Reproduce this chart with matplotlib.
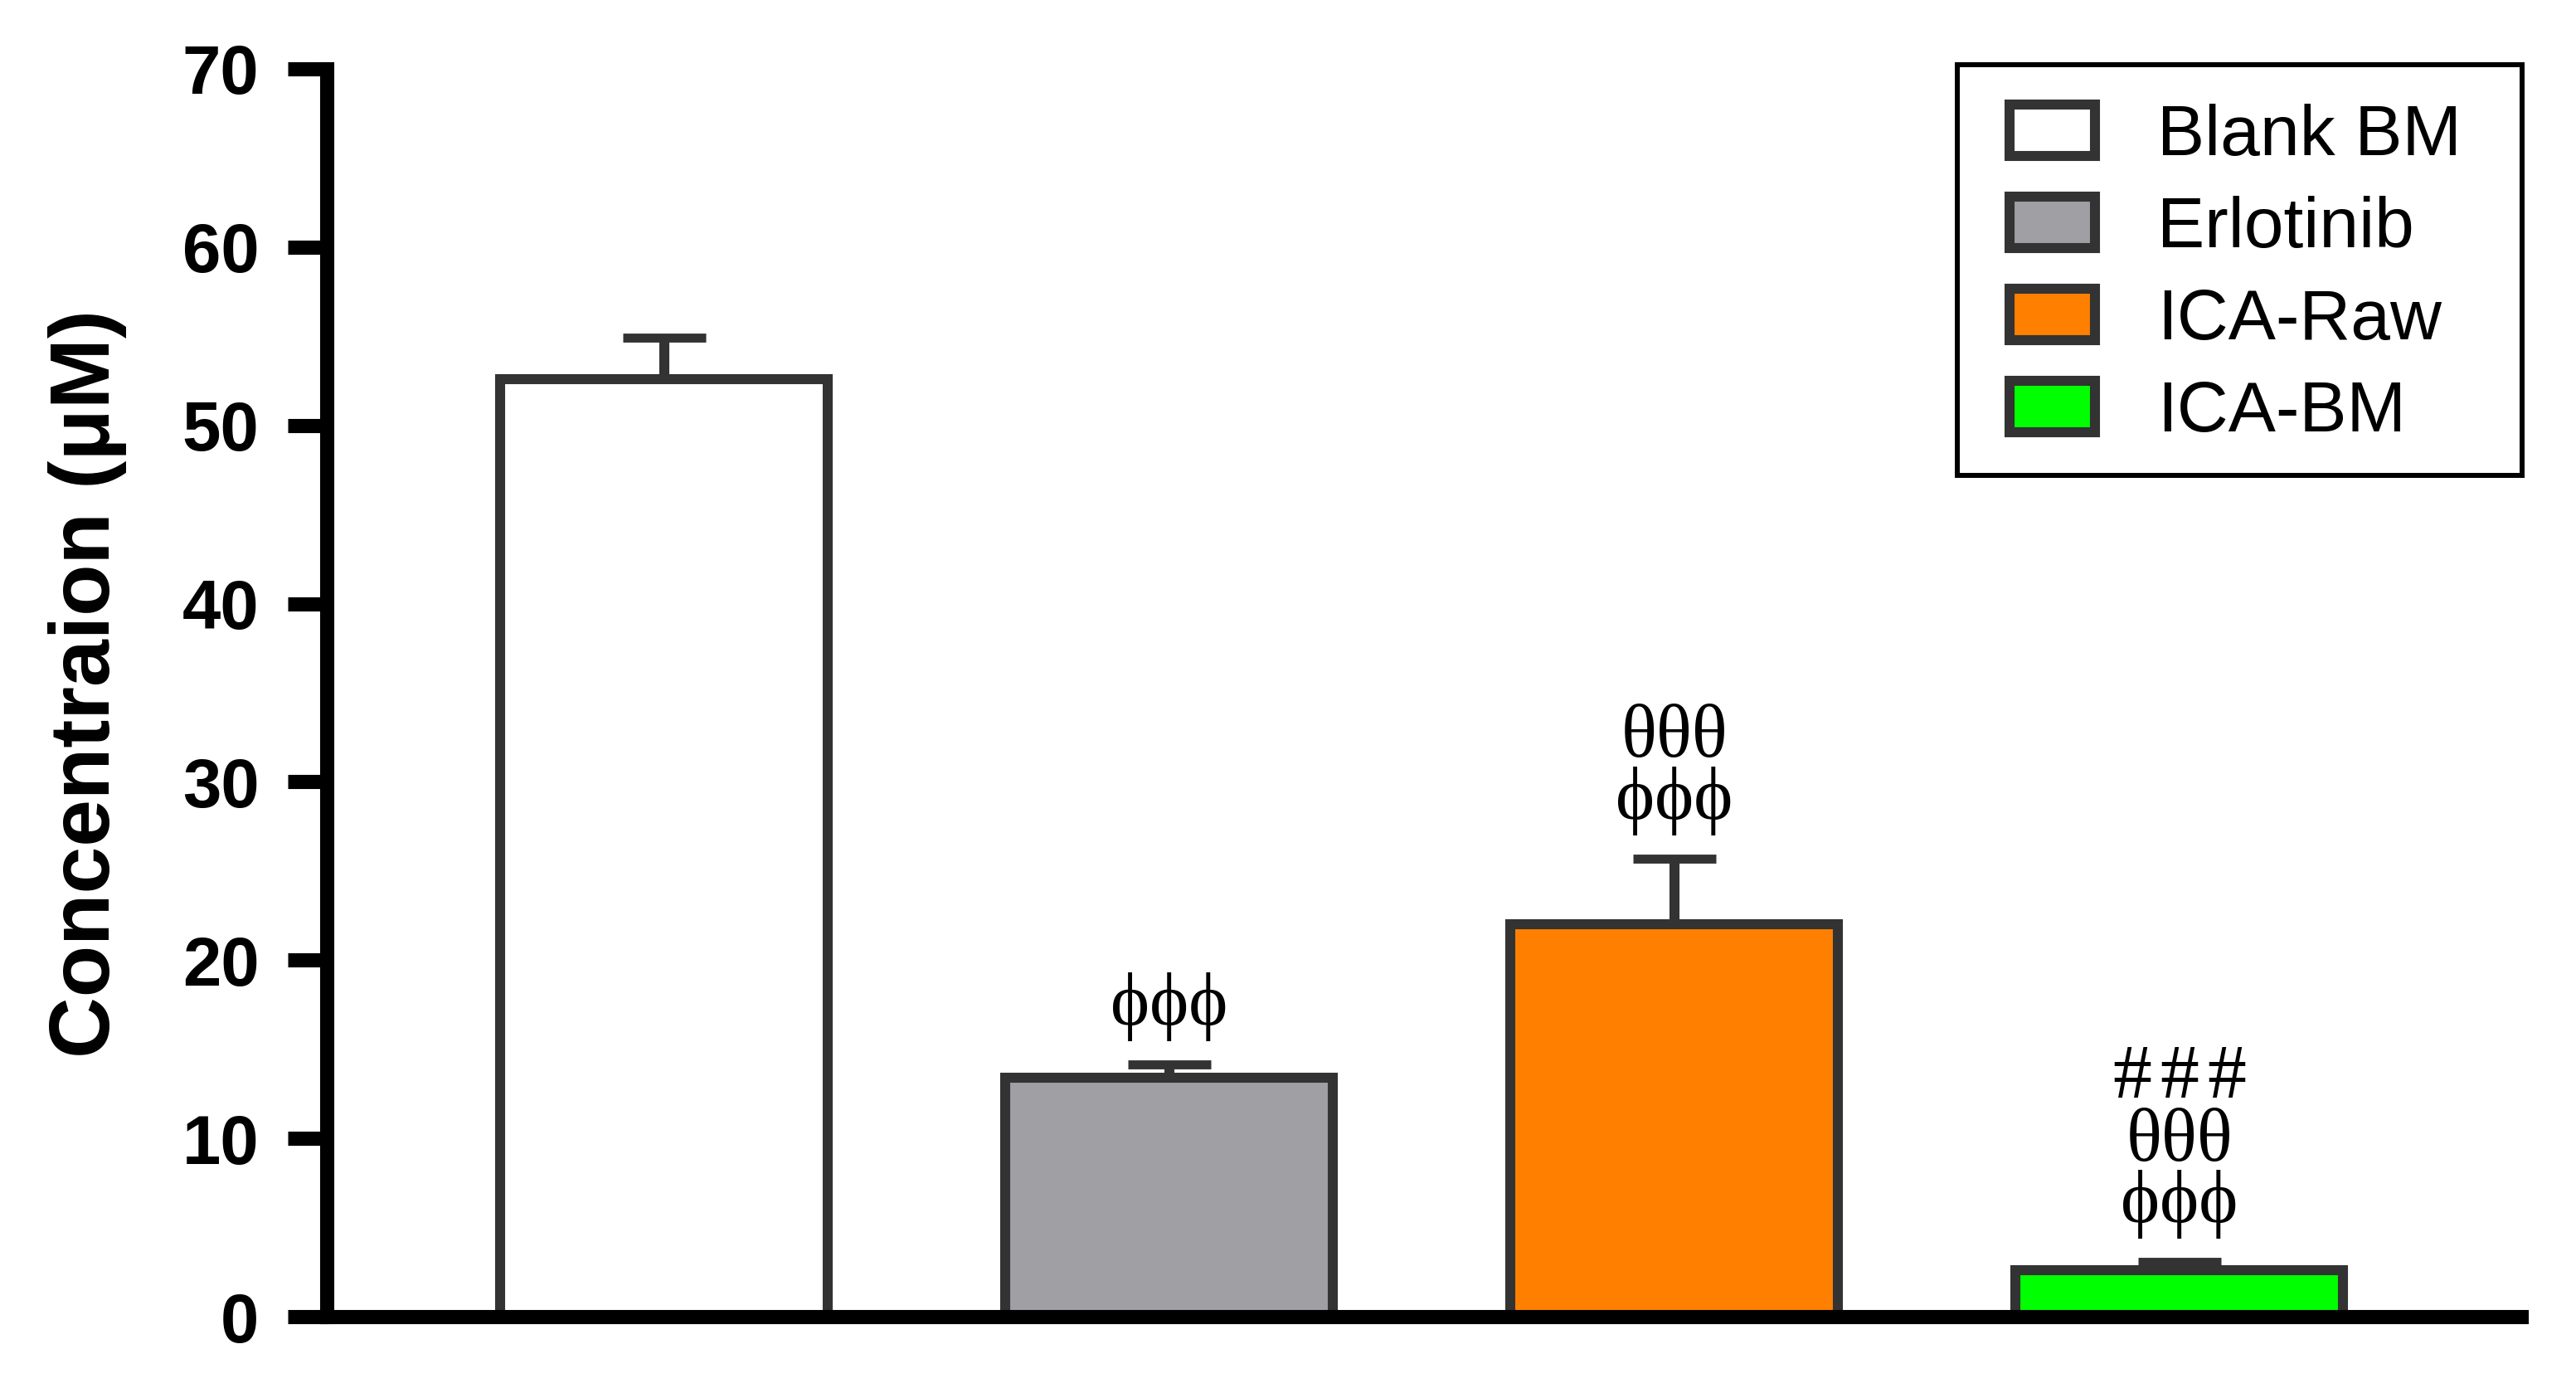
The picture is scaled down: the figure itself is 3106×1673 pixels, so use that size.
import numpy as np
import matplotlib
matplotlib.use("Agg")
import matplotlib.pyplot as plt
from matplotlib.patches import Rectangle

groups = ['Blank BM', 'Erlotinib', 'ICA-Raw', 'ICA-BM']
means = [52.6, 13.4, 22.0, 2.6]
sems = [2.3, 0.75, 3.7, 0.45]
colors = ['#FFFFFF', '#A09FA4', '#FF8000', '#00FF00']
# significance marks, bottom line first
marks = [[], ['\u03d5\u03d5\u03d5'], ['\u03d5\u03d5\u03d5', '\u03b8\u03b8\u03b8'],
         ['\u03d5\u03d5\u03d5', '\u03b8\u03b8\u03b8', '###']]

plt.rcParams['font.family'] = ['Liberation Sans', 'DejaVu Sans']
serif = ['Liberation Serif', 'DejaVu Serif']

fig = plt.figure(figsize=(3106 / 300, 1673 / 300), dpi=300)
ax = fig.add_axes([0.1270, 0.0514, 0.8518, 0.8990])

x = np.arange(len(groups))
edge = '#333333'
ax.errorbar(x, means, yerr=[np.zeros(len(sems)), sems], fmt='none',
            ecolor=edge, elinewidth=2.9, capsize=12, capthick=2.6, zorder=1)
ax.bar(x, means, width=0.649, color=colors, edgecolor=edge, linewidth=2.9,
       label=groups, zorder=2)

for i in range(len(groups)):
    top = means[i] + sems[i]
    for k, m in enumerate(marks[i]):
        dy = 11.3 + 18.2 * k
        if m == '###':
            # the hashes sit wider apart than the font spacing
            for j, dx in enumerate([-13.7, 0, 13.7]):
                ax.annotate('#', xy=(x[i], top), xytext=(dx, dy),
                            textcoords='offset points', ha='center', va='baseline',
                            fontsize=22.5, family=serif)
        else:
            ax.annotate(m, xy=(x[i], top), xytext=(0, dy),
                        textcoords='offset points', ha='center', va='baseline',
                        fontsize=21.5, family=serif)

ax.set_xlim(-0.667, 3.677)
ax.set_ylim(0, 70)
ax.set_yticks(np.arange(0, 71, 10))
ax.set_xticks([])
for s in ['top', 'right']:
    ax.spines[s].set_visible(False)
for s in ['left', 'bottom']:
    ax.spines[s].set_linewidth(4.1)
    ax.spines[s].set_color('black')
ax.tick_params(axis='y', length=11.3, width=4.1, pad=8.4, labelsize=20)
for t in ax.get_yticklabels():
    t.set_fontweight('bold')

ax.set_ylabel('Concentraion (\u03bcM)', fontsize=24.5, fontweight='bold', labelpad=16)
ax.yaxis.label.set_y(0.507)

leg = ax.legend(loc='upper right', bbox_to_anchor=(0.9928, 1.0073), borderaxespad=0,
                fontsize=20.6, frameon=False,
                handlelength=1.2, handleheight=0.74, handletextpad=0.87,
                labelspacing=0.36, borderpad=0.62)
# legend box drawn separately: padding is wider than tall in the original
ax.add_patch(Rectangle((0.7430, 0.6742), 1.0004 - 0.7430, 1.0033 - 0.6742,
                       transform=ax.transAxes, fill=False, edgecolor='black',
                       linewidth=1.44, clip_on=False, zorder=5))

fig.savefig('out.png', dpi=300, facecolor='white')
